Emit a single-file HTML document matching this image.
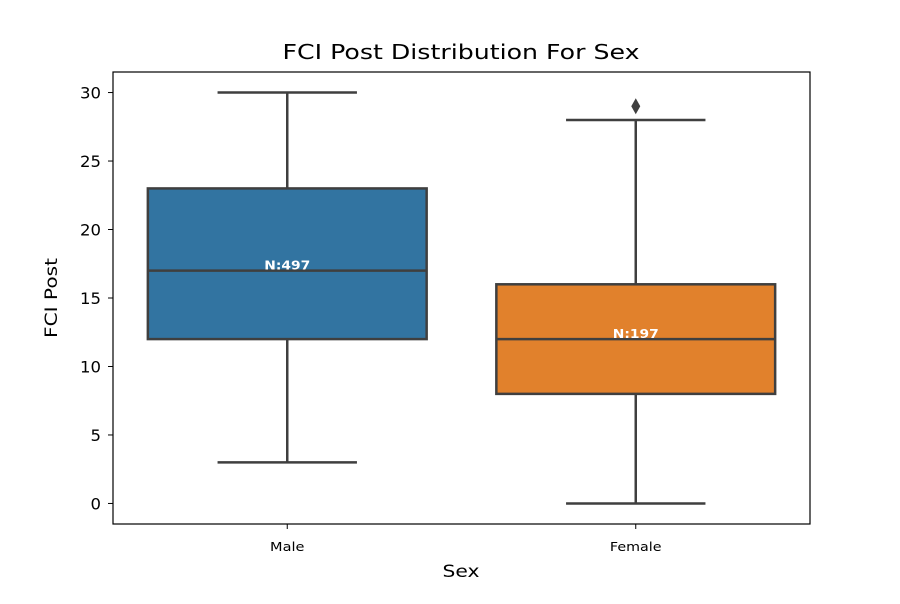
<!DOCTYPE html>
<html><head><meta charset="utf-8"><style>
body{margin:0;background:#fff;font-family:"DejaVu Sans","Liberation Sans",sans-serif;}
svg text{font-family:"DejaVu Sans","Liberation Sans",sans-serif;}
</style></head><body>
<svg id="chart" width="900" height="600" xmlns="http://www.w3.org/2000/svg">
<rect width="900" height="600" fill="#fff"/>
<text x="461" y="59" text-anchor="middle" font-size="20" textLength="357" lengthAdjust="spacingAndGlyphs" fill="#000">FCI Post Distribution For Sex</text>
<g id="plot"></g>
<rect x="113" y="72" width="697" height="452" fill="none" stroke="#000" stroke-width="1.2"/>
<text x="461" y="577" text-anchor="middle" font-size="17" textLength="37" lengthAdjust="spacingAndGlyphs">Sex</text>
<text transform="translate(57,298) rotate(-90)" text-anchor="middle" font-size="17" textLength="80" lengthAdjust="spacingAndGlyphs">FCI Post</text>
</svg>
<script>
const categories = ["Male", "Female"];
const lowWhisker = [3, 0];
const q1 = [12, 8];
const median = [17, 12];
const q3 = [23, 16];
const highWhisker = [30, 28];
const outliers = [[], [29]];
const counts = [497, 197];
const yTicks = [0, 5, 10, 15, 20, 25, 30];
const colors = ["#3274a1", "#e1812c"];

const L=113,R=810,T=72,B=524,yMin=-1.5,yMax=31.5;
const y=v=>B-(v-yMin)/(yMax-yMin)*(B-T);
const band=(R-L)/categories.length;
const xc=i=>L+band*(i+0.5);
const NS="http://www.w3.org/2000/svg";
const g=document.getElementById('plot');
function mk(tag,attrs){const e=document.createElementNS(NS,tag);for(const k in attrs)e.setAttribute(k,attrs[k]);g.appendChild(e);return e;}
const ec="#3f3f3f";
yTicks.forEach(t=>{
  const l=mk('line',{x1:L-5,x2:L,y1:y(t),y2:y(t),stroke:'#000','stroke-width':1});
  
  
  const s=String(t);
  const tx=mk('text',{x:L-12,y:y(t)+6,'text-anchor':'end','font-size':'16',textLength:s.length*10.5,lengthAdjust:'spacingAndGlyphs'});
  tx.textContent=s;
  
  
});
categories.forEach((c,i)=>{
  const cx=xc(i),hw=band*0.4,cw=band*0.2;
  const l=mk('line',{x1:cx,x2:cx,y1:B,y2:B+5,stroke:'#000','stroke-width':1});
  
  
  const tx=mk('text',{x:cx,y:B+27,'text-anchor':'middle','font-size':'12',textLength:c.length*8.6,lengthAdjust:'spacingAndGlyphs'});
  tx.textContent=c;
  
  
  const w1=mk('line',{x1:cx,x2:cx,y1:y(q1[i]),y2:y(lowWhisker[i]),stroke:ec,'stroke-width':2.5});
  
  
  const w2=mk('line',{x1:cx,x2:cx,y1:y(q3[i]),y2:y(highWhisker[i]),stroke:ec,'stroke-width':2.5});
  
  
  const c1=mk('line',{x1:cx-cw,x2:cx+cw,y1:y(lowWhisker[i]),y2:y(lowWhisker[i]),stroke:ec,'stroke-width':2.5});
  
  
  const c2=mk('line',{x1:cx-cw,x2:cx+cw,y1:y(highWhisker[i]),y2:y(highWhisker[i]),stroke:ec,'stroke-width':2.5});
  
  
  const b=mk('rect',{x:cx-hw,y:y(q3[i]),width:2*hw,height:y(q1[i])-y(q3[i]),fill:colors[i],stroke:ec,'stroke-width':2.5});
  
  
  const m=mk('line',{x1:cx-hw,x2:cx+hw,y1:y(median[i]),y2:y(median[i]),stroke:ec,'stroke-width':2.5});
  
  
  outliers[i].forEach(o=>{
    const d=mk('path',{d:`M${cx} ${y(o)-8}L${cx+4.5} ${y(o)}L${cx} ${y(o)+8}L${cx-4.5} ${y(o)}Z`,fill:ec});
    
    
  });
  const lab='N:'+counts[i];
  const n=mk('text',{x:cx,y:y(median[i])-1,'text-anchor':'middle','font-size':'12.5','font-weight':'bold',fill:'#fff',textLength:46,lengthAdjust:'spacingAndGlyphs'});
  n.textContent=lab;
  
  
});
</script>
</body></html>
